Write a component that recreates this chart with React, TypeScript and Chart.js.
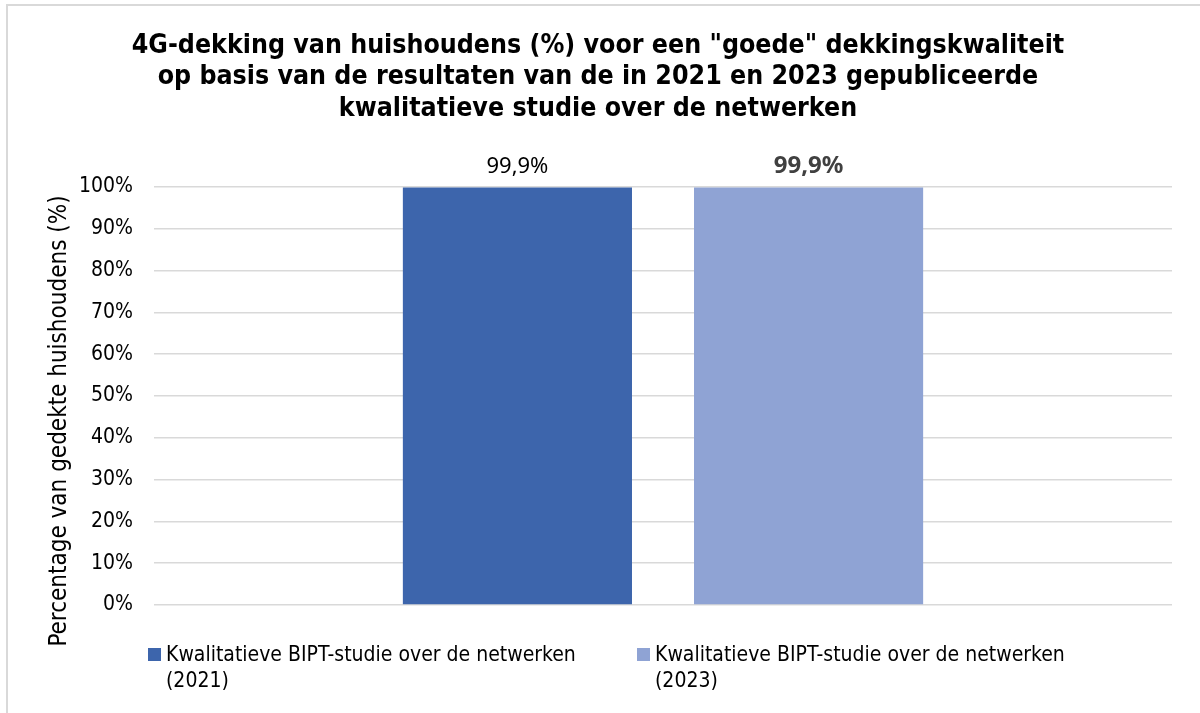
import React, { useEffect, useRef } from "react";
import { Chart, registerables } from "chart.js";

Chart.register(...registerables);

const titleLines = [
  '4G-dekking van huishoudens (%) voor een "goede" dekkingskwaliteit',
  "op basis van de resultaten van de in 2021 en 2023 gepubliceerde",
  "kwalitatieve studie over de netwerken",
];
const categories = [""];
const seriesNames = [
  ["Kwalitatieve BIPT-studie over de netwerken", "(2021)"],
  ["Kwalitatieve BIPT-studie over de netwerken", "(2023)"],
];
const values2021 = [99.9];
const values2023 = [99.9];
const valueLabels = ["99,9%", "99,9%"];
const yAxisTitle = "Percentage van gedekte huishoudens (%)";
const yTicks = [0, 10, 20, 30, 40, 50, 60, 70, 80, 90, 100];

const COLORS = ["#3D65AC", "#8FA3D4"];
const FONT = "'DejaVu Sans Condensed', 'DejaVu Sans', sans-serif";

const decorPlugin = {
  id: "decor",
  beforeDraw(chart: any) {
    const ctx = chart.ctx;
    ctx.save();
    ctx.strokeStyle = "#d9d9d9";
    ctx.lineWidth = 2;
    ctx.beginPath();
    ctx.moveTo(7, 1200);
    ctx.lineTo(7, 5);
    ctx.lineTo(1300, 5);
    ctx.stroke();
    ctx.restore();
  },
  afterDraw(chart: any) {
    const ctx = chart.ctx;
    ctx.save();
    // title
    ctx.fillStyle = "#000";
    ctx.font = `bold 26.5px ${FONT}`;
    ctx.textAlign = "center";
    ctx.textBaseline = "middle";
    titleLines.forEach((l, i) => ctx.fillText(l, 598, 46 + i * 31.5));

    // y-axis title
    ctx.save();
    ctx.translate(60, 421);
    ctx.rotate(-Math.PI / 2);
    ctx.font = `24px ${FONT}`;
    ctx.fillText(yAxisTitle, 0, 0);
    ctx.restore();

    // data labels
    chart.data.datasets.forEach((ds: any, di: number) => {
      const meta = chart.getDatasetMeta(di);
      meta.data.forEach((bar: any) => {
        ctx.font = di === 0 ? "22px 'Noto Sans', sans-serif" : "bold 24px 'Noto Sans', sans-serif";
        ctx.fillStyle = di === 0 ? "#000" : "#404040";
        ctx.textAlign = "center";
        ctx.textBaseline = "middle";
        ctx.fillText(valueLabels[di], bar.x, bar.y - 21);
      });
    });

    // legend
    const legendX = [148, 637];
    seriesNames.forEach((lines, i) => {
      ctx.fillStyle = COLORS[i];
      ctx.fillRect(legendX[i], 648, 13, 13);
      ctx.fillStyle = "#000";
      ctx.font = `21px ${FONT}`;
      ctx.textAlign = "left";
      ctx.textBaseline = "middle";
      lines.forEach((t, j) => ctx.fillText(t, legendX[i] + 18, 656 + j * 26));
    });
    ctx.restore();
  },
};

export default function App() {
  const ref = useRef<HTMLCanvasElement>(null);
  useEffect(() => {
    if (!ref.current) return;
    const chart = new Chart(ref.current, {
      type: "bar",
      data: {
        labels: categories,
        datasets: [
          { label: seriesNames[0].join(" "), data: values2021, backgroundColor: COLORS[0] },
          { label: seriesNames[1].join(" "), data: values2023, backgroundColor: COLORS[1] },
        ],
      },
      options: {
        animation: false,
        responsive: false,
        maintainAspectRatio: false,
        layout: { padding: { top: 187, bottom: 108, left: 0, right: 28 } },
        datasets: { bar: { categoryPercentage: 0.572, barPercentage: 0.787 } } as any,
        plugins: {
          legend: { display: false },
          title: { display: false },
          tooltip: { enabled: false },
        },
        scales: {
          x: { display: false },
          y: {
            min: 0,
            max: 100,
            afterFit(scale: any) {
              scale.width = 154;
            },
            afterBuildTicks(scale: any) {
              scale.ticks = yTicks.map((v) => ({ value: v }));
            },
            border: { display: false },
            grid: { color: "#d9d9d9", lineWidth: 1.5, drawTicks: false },
            ticks: {
              padding: 21,
              color: "#000",
              font: { family: FONT, size: 21 },
              callback: (v: any) => `${v}%`,
            },
          },
        },
      },
      plugins: [decorPlugin],
    });
    return () => chart.destroy();
  }, []);
  return (
    <div style={{ position: "absolute", left: 0, top: 0, width: 1200, height: 713, background: "#fff" }}>
      <canvas ref={ref} width={1200} height={713} />
    </div>
  );
}
